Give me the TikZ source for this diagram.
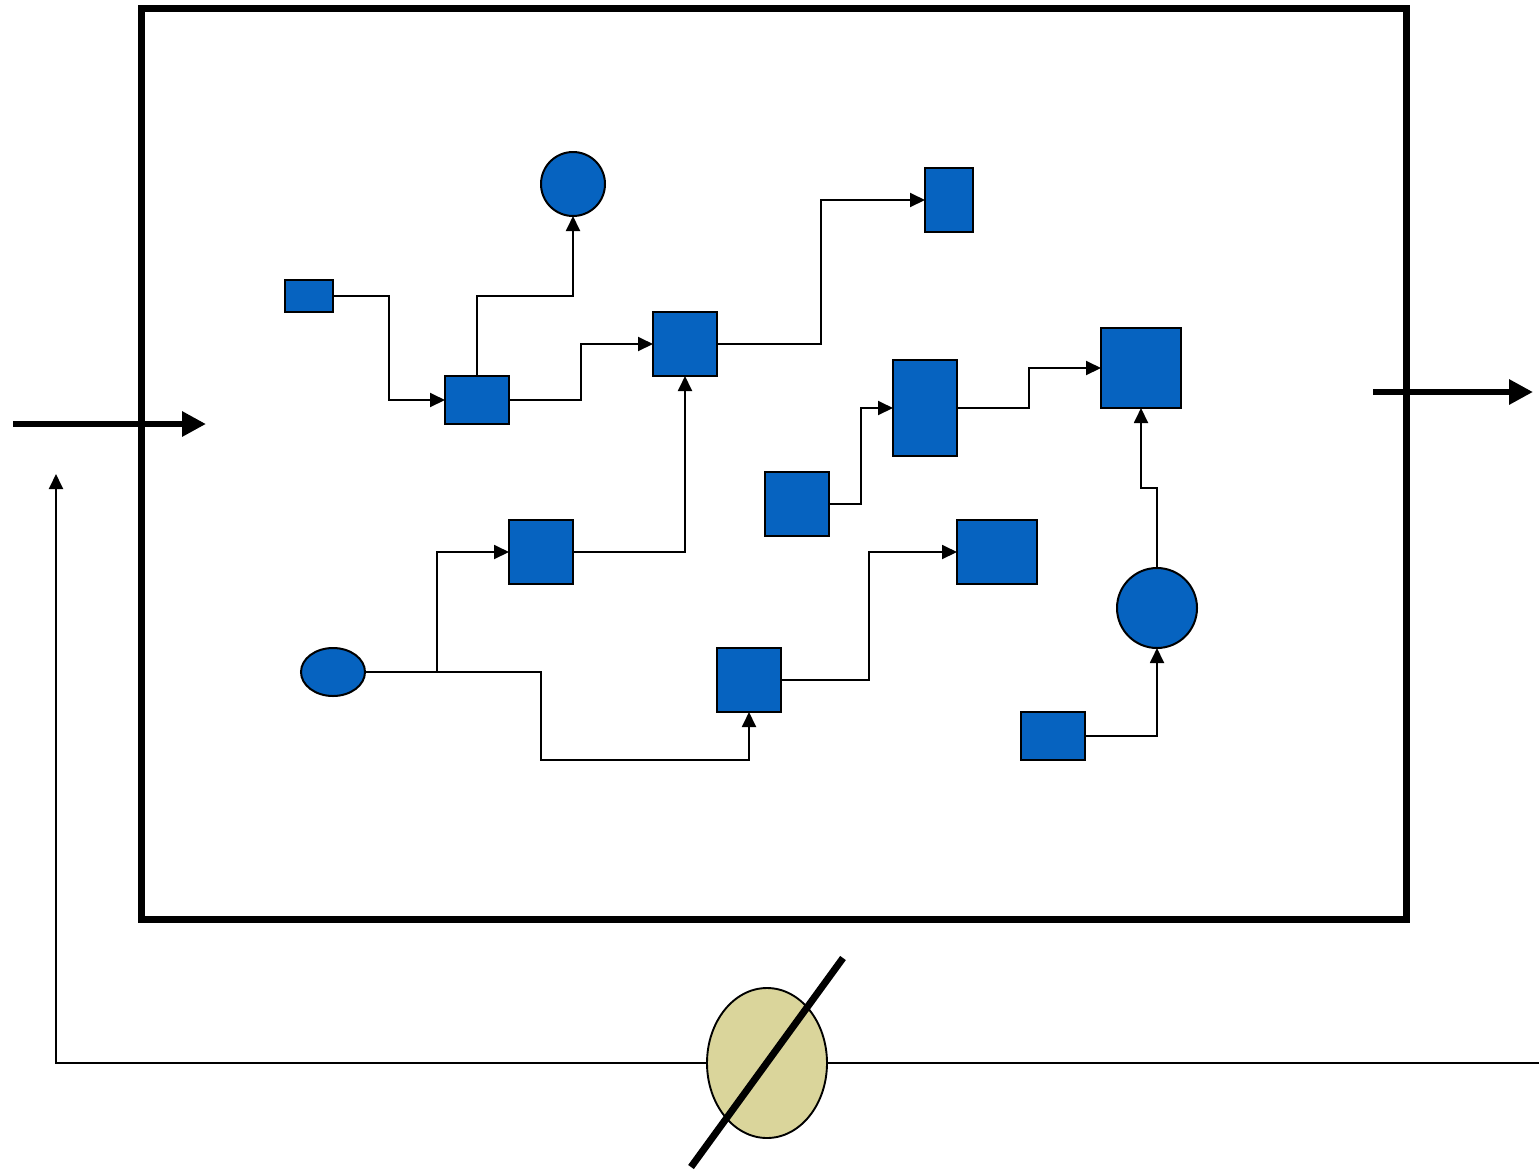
\documentclass[tikz,border=0pt]{standalone}
\usetikzlibrary{arrows.meta,shapes.geometric}
\definecolor{nodeblue}{RGB}{6,99,192}
\definecolor{tan}{RGB}{218,213,155}
\tikzset{
  blk/.style={draw=black, line width=2pt, fill=nodeblue, inner sep=0pt, outer sep=0pt},
  rbox/.style={blk, rectangle},
  cbox/.style={blk, circle},
  ebox/.style={blk, ellipse},
  conn/.style={draw=black, line width=1.9pt, -{Triangle[length=15pt,width=14pt]}},
  plainconn/.style={draw=black, line width=1.9pt},
  bigarrow/.style={draw=black, line width=6.5pt, -{Triangle[length=24pt,width=24pt]}},
}
\begin{document}
\begin{tikzpicture}[x=1pt,y=-1pt]
\useasboundingbox (0,0) rectangle (1539,1171);
% frame
\node[draw=black, line width=7pt, minimum width=1265pt, minimum height=911pt, inner sep=0pt] (frame) at (773.5,463.5) {};
% nodes
\node[rbox, minimum width=48pt, minimum height=32pt] (A) at (309,296) {};
\node[rbox, minimum width=64pt, minimum height=48pt] (B) at (477,400) {};
\node[cbox, minimum size=64pt] (C) at (573,184) {};
\node[rbox, minimum width=64pt, minimum height=64pt] (D) at (685,344) {};
\node[rbox, minimum width=48pt, minimum height=64pt] (E) at (949,200) {};
\node[rbox, minimum width=64pt, minimum height=96pt] (F) at (925,408) {};
\node[rbox, minimum width=80pt, minimum height=80pt] (G) at (1141,368) {};
\node[rbox, minimum width=64pt, minimum height=64pt] (H) at (797,504) {};
\node[rbox, minimum width=64pt, minimum height=64pt] (I) at (541,552) {};
\node[rbox, minimum width=80pt, minimum height=64pt] (J) at (997,552) {};
\node[ebox, minimum width=64pt, minimum height=48pt] (K) at (333,672) {};
\node[rbox, minimum width=64pt, minimum height=64pt] (L) at (749,680) {};
\node[cbox, minimum size=80pt] (M) at (1157,608) {};
\node[rbox, minimum width=64pt, minimum height=48pt] (N) at (1053,736) {};
% connectors
\draw[conn] (A.east) -- (389,296) |- (B.west);
\draw[conn] (B.north) |- (573,296) -- (C.south);
\draw[conn] (B.east) -- (581,400) |- (D.west);
\draw[conn] (D.east) -- (821,344) |- (E.west);
\draw[conn] (I.east) -| (D.south);
\draw[conn] (K.east) -- (437,672) |- (I.west);
\draw[conn] (K.east) -- (541,672) |- (749,760) -- (L.south);
\draw[conn] (L.east) -- (869,680) |- (J.west);
\draw[conn] (H.east) -- (861,504) |- (F.west);
\draw[conn] (F.east) -- (1029,408) |- (G.west);
\draw[conn] (M.north) |- (1141,488) -- (G.south);
\draw[conn] (N.east) -| (M.south);
% in / out arrows
\coordinate (inS) at (13,424);
\coordinate (inE) at (206,424);
\draw[bigarrow] (inS) -- (inE);
\coordinate (outS) at (1373,392);
\coordinate (outE) at (1533,392);
\draw[bigarrow] (outS) -- (outE);
% feedback loop
\node[draw=black, line width=1.9pt, fill=tan, ellipse, minimum width=120pt, minimum height=150pt, inner sep=0pt, outer sep=0pt] (V) at (767,1063) {};
\coordinate (fbR) at (1539,1063);
\coordinate (fbC) at (56,1063);
\coordinate (fbT) at (56,474);
\draw[plainconn] (fbR) -- (V.east);
\draw[draw=black, line width=1.9pt, -{Triangle[length=15pt,width=14pt]}] (V.west) -- (fbC) -- (fbT);
\coordinate (slA) at (843,958);
\coordinate (slB) at (691,1167);
\draw[black, line width=7pt] (slA) -- (slB);
\end{tikzpicture}
\end{document}
